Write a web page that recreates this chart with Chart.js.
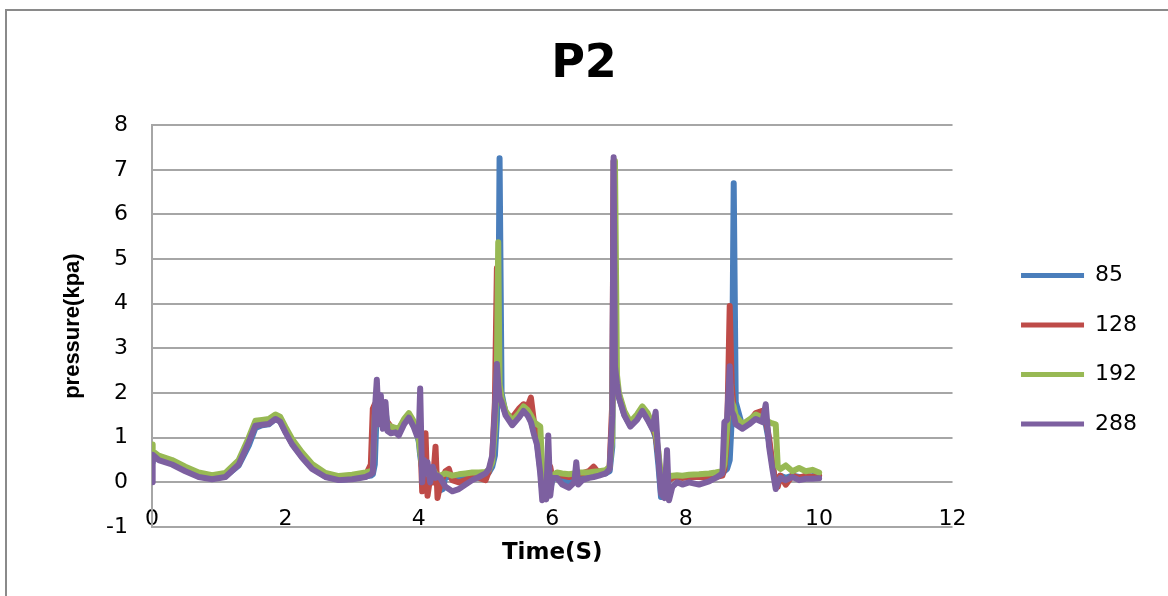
<!DOCTYPE html>
<html lang="en">
<head>
  <meta charset="UTF-8" />
  <title>P2 pressure</title>
  <script src="https://cdn.jsdelivr.net/npm/chart.js"></script>
  <style>
    html, body { margin: 0; padding: 0; background: #fff; overflow: hidden; }
    #wrap { position: relative; width: 1168px; height: 596px; }
    #frame { position: absolute; left: 5px; top: 9px; width: 1300px; height: 700px;
             border: 2px solid #8a8a8a; pointer-events: none; }
  </style>
</head>
<body>
  <div id="wrap">
    <canvas id="p2Chart"></canvas>
    <div id="frame"></div>
  </div>

  <script>
    // time (s)
    const times = [
      0.00, 0.01, 0.10, 0.30, 0.50, 0.70, 0.90, 1.10, 1.30, 1.45, 1.55, 1.65, 1.75, 1.85, 1.92, 2.00,
      2.10, 2.25, 2.40, 2.60, 2.80, 3.00, 3.20, 3.28,
      3.31, 3.34, 3.37, 3.40, 3.43, 3.46, 3.50, 3.53, 3.58, 3.65, 3.70, 3.78, 3.85, 3.92, 3.97, 4.00,
      4.02, 4.05, 4.08, 4.10, 4.13, 4.17, 4.21, 4.25, 4.28, 4.32, 4.36, 4.40, 4.45, 4.50, 4.60, 4.70,
      4.80, 4.90, 5.00, 5.05, 5.10, 5.14, 5.17, 5.19, 5.21, 5.24, 5.30, 5.40, 5.50, 5.57, 5.63, 5.68,
      5.73, 5.77, 5.82, 5.85, 5.88, 5.91, 5.94, 5.97, 6.00, 6.07, 6.15, 6.25, 6.33, 6.36, 6.39, 6.45,
      6.55, 6.62, 6.70, 6.80, 6.86, 6.90, 6.92, 6.94, 6.97, 7.00, 7.08, 7.17, 7.27, 7.35, 7.43, 7.50,
      7.55, 7.59, 7.63, 7.68, 7.72, 7.75, 7.80, 7.87, 7.95, 8.05, 8.20, 8.35, 8.45, 8.55, 8.58, 8.62,
      8.66, 8.69, 8.72, 8.75, 8.85, 8.95, 9.05, 9.15, 9.20, 9.25, 9.30, 9.35, 9.38, 9.42, 9.50, 9.60,
      9.70, 9.80, 9.90, 10.00
    ];

    // pressure (kpa) per series
    const p85 = [
      0.45, 0.60, 0.52, 0.42, 0.27, 0.14, 0.09, 0.13, 0.38, 0.82, 1.22, 1.28, 1.30, 1.42, 1.37, 1.14,
      0.87, 0.57, 0.32, 0.13, 0.06, 0.08, 0.13, 0.15,
      0.18, 0.40, 1.70, 1.50, 1.80, 1.30, 1.60, 1.25, 1.15, 1.15, 1.10, 1.35, 1.47, 1.30, 1.10, 0.90,
      0.60, 0.30, 0.10, 0.20, 0.35, 0.15, 0.20, 0.30, 0.10, -0.18, -0.15, 0.15, 0.12, 0.10, 0.10, 0.08,
      0.12, 0.16, 0.18, 0.22, 0.35, 0.60, 1.40, 3.00, 7.26, 2.00, 1.55, 1.30, 1.47, 1.62, 1.52, 1.38,
      1.10, 0.90, 0.30, -0.20, -0.10, -0.25, 0.00, -0.15, 0.05, 0.12, 0.05, 0.00, 0.05, 0.10, 0.10, 0.12,
      0.15, 0.15, 0.18, 0.20, 0.25, 0.80, 7.20, 2.40, 2.10, 1.90, 1.52, 1.27, 1.42, 1.62, 1.42, 1.22,
      1.00, 0.40, -0.33, -0.30, -0.10, 0.05, 0.10, 0.12, 0.10, 0.12, 0.15, 0.15, 0.18, 0.20, 0.25, 0.30,
      0.50, 1.40, 6.70, 1.80, 1.25, 1.32, 1.45, 1.40, 1.30, 0.90, 0.40, -0.05, 0.10, 0.15, 0.10, 0.15,
      0.12, 0.12, 0.14, 0.14
    ];
    const p128 = [
      0.55, 0.58, 0.53, 0.43, 0.28, 0.15, 0.10, 0.15, 0.42, 0.93, 1.30, 1.31, 1.34, 1.45, 1.39, 1.15,
      0.88, 0.58, 0.33, 0.15, 0.08, 0.10, 0.15, 0.40,
      1.65, 1.75, 1.55, 1.70, 1.40, 1.50, 1.30, 1.35, 1.25, 1.20, 1.20, 1.38, 1.48, 1.35, 1.12, 1.00,
      1.10, -0.20, 0.30, 1.10, -0.30, 0.10, 0.00, 0.80, -0.35, -0.05, 0.10, 0.25, 0.30, 0.05, 0.00, 0.05,
      0.15, 0.10, 0.05, 0.25, 0.55, 1.80, 4.80, 2.40, 1.90, 1.80, 1.55, 1.45, 1.65, 1.75, 1.70, 1.90,
      1.30, 1.00, 0.40, -0.10, 0.30, -0.05, 0.20, 0.35, 0.10, 0.20, 0.15, 0.12, 0.15, 0.15, 0.18, 0.20,
      0.25, 0.35, 0.20, 0.25, 0.35, 1.80, 7.20, 2.50, 2.10, 1.95, 1.55, 1.30, 1.45, 1.62, 1.45, 1.25,
      1.05, 0.60, 0.00, -0.10, 0.00, 0.05, 0.10, 0.12, 0.10, 0.12, 0.12, 0.10, 0.12, 0.15, 0.30, 1.00,
      3.95, 2.20, 1.60, 1.45, 1.25, 1.35, 1.55, 1.60, 1.40, 1.00, 0.40, 0.00, -0.10, 0.15, -0.05, 0.15,
      0.10, 0.15, 0.12, 0.15
    ];
    const p192 = [
      0.85, 0.70, 0.60, 0.50, 0.35, 0.22, 0.16, 0.21, 0.50, 1.00, 1.38, 1.40, 1.42, 1.52, 1.47, 1.24,
      0.97, 0.67, 0.41, 0.21, 0.14, 0.17, 0.22, 0.25,
      0.30, 1.50, 1.90, 1.45, 1.70, 1.40, 1.45, 1.30, 1.25, 1.22, 1.20, 1.42, 1.55, 1.38, 1.15, 0.95,
      0.70, 0.35, 0.40, 0.30, 0.20, 0.15, 0.30, 0.20, 0.15, 0.15, 0.18, 0.20, 0.18, 0.15, 0.18, 0.20,
      0.22, 0.22, 0.23, 0.28, 0.45, 1.20, 2.50, 5.38, 2.20, 1.90, 1.60, 1.38, 1.55, 1.70, 1.62, 1.50,
      1.35, 1.30, 1.25, 0.30, 0.10, 0.15, 0.20, 0.10, 0.15, 0.22, 0.20, 0.18, 0.20, 0.20, 0.22, 0.22,
      0.22, 0.24, 0.25, 0.27, 0.35, 1.00, 5.00, 7.20, 2.40, 2.00, 1.60, 1.35, 1.52, 1.70, 1.55, 1.30,
      1.10, 0.70, 0.10, 0.05, 0.10, 0.12, 0.15, 0.16, 0.15, 0.17, 0.18, 0.20, 0.22, 0.25, 0.40, 1.20,
      2.30, 1.80, 1.70, 1.50, 1.30, 1.40, 1.52, 1.45, 1.40, 1.35, 1.32, 1.30, 0.35, 0.30, 0.38, 0.25,
      0.32, 0.25, 0.28, 0.22
    ];
    const p288 = [
      0.00, 0.62, 0.50, 0.40, 0.25, 0.12, 0.07, 0.12, 0.40, 0.90, 1.27, 1.29, 1.31, 1.42, 1.36, 1.12,
      0.85, 0.55, 0.30, 0.12, 0.05, 0.07, 0.12, 0.18,
      0.22, 1.60, 2.30, 1.30, 1.95, 1.20, 1.80, 1.15, 1.10, 1.12, 1.05, 1.30, 1.45, 1.25, 1.05, 1.10,
      2.10, 0.00, 0.50, 0.20, 0.45, 0.00, 0.35, 0.10, 0.15, 0.10, 0.00, -0.10, -0.15, -0.20, -0.15, -0.05,
      0.05, 0.12, 0.20, 0.30, 0.60, 1.60, 2.65, 2.20, 1.90, 1.80, 1.50, 1.28, 1.45, 1.60, 1.50, 1.35,
      1.05, 0.85, 0.20, -0.40, -0.20, -0.38, 1.05, -0.30, 0.10, 0.10, -0.05, -0.12, 0.00, 0.45, -0.05, 0.05,
      0.10, 0.12, 0.15, 0.20, 0.30, 1.50, 7.28, 2.60, 2.20, 1.90, 1.50, 1.25, 1.40, 1.60, 1.40, 1.20,
      1.58, 0.60, -0.25, -0.35, 0.72, -0.40, -0.10, 0.00, -0.05, 0.00, -0.05, 0.02, 0.10, 0.20, 1.35, 1.40,
      2.60, 1.60, 1.50, 1.30, 1.20, 1.30, 1.42, 1.35, 1.75, 0.80, 0.30, -0.15, 0.00, 0.10, 0.05, 0.12,
      0.05, 0.08, 0.08, 0.09
    ];

    const seriesNames = ['85', '128', '192', '288'];
    const seriesValues = [p85, p128, p192, p288];
    const seriesColors = ['#4A7EBB', '#BE4B48', '#98B954', '#7D60A0'];

    const yTicks = { min: -1, max: 8, step: 1 };
    const xTicks = { min: 0, max: 12, step: 2 };

    const datasets = seriesNames.map((name, i) => ({
      label: name,
      data: times.map((t, k) => ({ x: t, y: seriesValues[i][k] })),
      borderColor: seriesColors[i],
      backgroundColor: seriesColors[i],
      borderWidth: 6,
      borderJoinStyle: 'round',
      borderCapStyle: 'round',
      pointRadius: 0,
      tension: 0,
      fill: false,
      order: seriesNames.length - 1 - i   // last series on top, like Excel
    }));

    Chart.defaults.font.family = "'DejaVu Sans', sans-serif";
    Chart.defaults.color = '#000';

    const ctx = document.getElementById('p2Chart').getContext('2d');
    const chart = new Chart(ctx, {
      type: 'line',
      data: { datasets },
      options: {
        responsive: true,
        maintainAspectRatio: false,
        animation: false,
        layout: { padding: 0 },
        plugins: {
          title: {
            display: true,
            text: 'P2',
            color: '#000',
            font: { size: 46, weight: 'bold' },
            padding: { top: 37, bottom: 33 }
          },
          legend: {
            position: 'right',
            title: { display: true, text: '', font: { size: 12 }, padding: { top: 89, bottom: 0 } },
            labels: {
              boxWidth: 63,
              boxHeight: 5,
              padding: 27.5,
              color: '#000',
              font: { size: 22 },
              sort: (a, b) => a.datasetIndex - b.datasetIndex,
              // trailing spaces only widen the legend box so it sits where Excel put it
              generateLabels: (c) => Chart.defaults.plugins.legend.labels.generateLabels(c)
                .map(item => Object.assign(item, { lineWidth: 0, text: item.text + '   ' }))
            }
          },
          tooltip: { enabled: false }
        },
        scales: {
          x: {
            type: 'linear',
            min: xTicks.min,
            max: xTicks.max,
            grid: { display: false, drawTicks: false },
            border: { display: false },
            ticks: { stepSize: xTicks.step, mirror: true, padding: -5, font: { size: 22 }, color: '#000' },
            title: {
              display: true,
              text: 'Time(S)',
              color: '#000',
              font: { size: 23, weight: 'bold' },
              padding: { top: 0, bottom: 29 }
            },
            afterFit: (s) => { s.height = 69; }
          },
          y: {
            min: yTicks.min,
            max: yTicks.max,
            grid: { color: '#a6a6a6', lineWidth: 2, drawTicks: false },
            border: { display: true, color: '#a6a6a6', width: 2 },
            ticks: { stepSize: yTicks.step, padding: 24, font: { size: 22 }, color: '#000' },
            title: {
              display: true,
              text: 'pressure(kpa)',
              color: '#000',
              font: { family: "'Liberation Sans', Arial, sans-serif", size: 22, weight: 'bold' },
              padding: { top: 60, bottom: 0 }
            },
            afterFit: (s) => { s.width = 152; }
          },
          yRight: {
            position: 'right',
            display: true,
            grid: { display: false, drawTicks: false },
            border: { display: false },
            ticks: { display: false },
            afterFit: (s) => { s.width = 41; }
          }
        }
      }
    });
  </script>
</body>
</html>
